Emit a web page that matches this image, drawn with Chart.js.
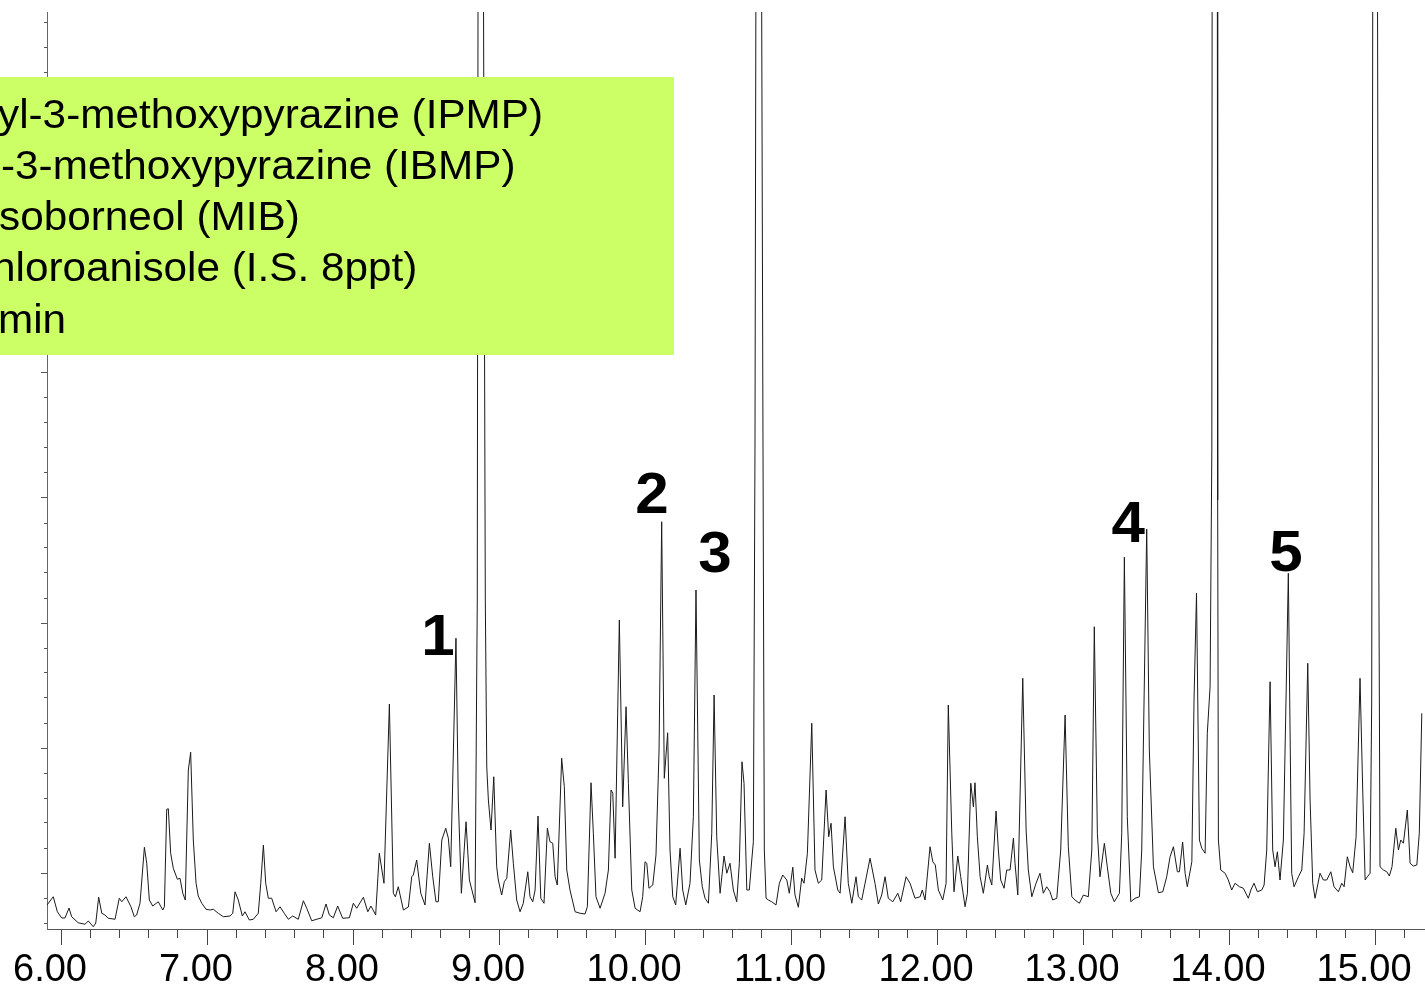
<!DOCTYPE html>
<html><head><meta charset="utf-8">
<script src="https://cdn.jsdelivr.net/npm/chart.js@4.4.0/dist/chart.umd.min.js"></script>
<style>html,body{margin:0;padding:0;background:#fff;overflow:hidden}canvas{display:block}</style>
</head><body>
<canvas id="c" width="1425" height="997"></canvas>
<script>
// Retention time (min)
const times = [5.904,5.947,5.975,6.005,6.027,6.055,6.073,6.118,6.164,6.187,6.221,6.238,6.258,6.279,6.301,6.324,6.370,6.399,6.416,6.445,6.479,6.502,6.518,6.541,6.571,6.587,6.605,6.628,6.666,6.697,6.708,6.724,6.735,6.751,6.769,6.797,6.815,6.834,6.851,6.872,6.888,6.906,6.925,6.940,6.964,6.993,7.021,7.043,7.077,7.112,7.158,7.176,7.192,7.214,7.242,7.260,7.290,7.317,7.351,7.368,7.386,7.402,7.420,7.443,7.473,7.500,7.529,7.557,7.587,7.625,7.660,7.683,7.717,7.786,7.815,7.838,7.865,7.895,7.929,7.975,8.002,8.025,8.071,8.101,8.123,8.155,8.180,8.212,8.249,8.276,8.290,8.310,8.345,8.379,8.402,8.413,8.436,8.464,8.493,8.523,8.546,8.568,8.584,8.608,8.635,8.653,8.669,8.683,8.705,8.721,8.742,8.774,8.797,8.836,8.851,8.856,8.875,8.894,8.906,8.916,8.927,8.945,8.964,8.984,8.995,9.018,9.036,9.053,9.080,9.098,9.121,9.144,9.166,9.197,9.212,9.231,9.247,9.267,9.286,9.308,9.331,9.349,9.368,9.384,9.399,9.429,9.447,9.464,9.486,9.521,9.555,9.589,9.605,9.630,9.646,9.664,9.692,9.726,9.749,9.767,9.779,9.795,9.824,9.847,9.870,9.886,9.909,9.932,9.966,9.984,10.000,10.012,10.027,10.053,10.075,10.096,10.114,10.132,10.155,10.171,10.190,10.210,10.240,10.258,10.279,10.308,10.331,10.349,10.372,10.392,10.411,10.434,10.457,10.473,10.491,10.514,10.541,10.560,10.582,10.605,10.628,10.646,10.664,10.678,10.697,10.714,10.731,10.742,10.753,10.759,10.779,10.799,10.808,10.817,10.829,10.845,10.868,10.897,10.920,10.943,10.971,10.988,11.012,11.027,11.050,11.073,11.089,11.112,11.142,11.164,11.187,11.210,11.240,11.258,11.274,11.290,11.320,11.336,11.370,11.392,11.416,11.445,11.461,11.484,11.507,11.541,11.575,11.598,11.621,11.644,11.666,11.697,11.731,11.751,11.788,11.815,11.849,11.884,11.899,11.918,11.952,11.971,11.988,12.009,12.039,12.062,12.077,12.101,12.116,12.142,12.162,12.192,12.208,12.231,12.249,12.260,12.276,12.295,12.317,12.345,12.358,12.375,12.404,12.420,12.436,12.459,12.477,12.500,12.523,12.534,12.553,12.587,12.610,12.625,12.649,12.678,12.705,12.728,12.751,12.774,12.792,12.820,12.847,12.877,12.899,12.923,12.945,12.975,13.002,13.036,13.060,13.077,13.098,13.116,13.146,13.166,13.190,13.214,13.249,13.265,13.283,13.303,13.327,13.356,13.386,13.402,13.436,13.454,13.482,13.516,13.546,13.573,13.596,13.619,13.646,13.660,13.682,13.699,13.714,13.745,13.760,13.777,13.797,13.813,13.836,13.851,13.870,13.882,13.884,13.901,13.920,13.922,13.927,13.943,13.973,13.995,14.018,14.041,14.071,14.098,14.132,14.149,14.171,14.194,14.224,14.240,14.258,14.281,14.299,14.315,14.331,14.349,14.372,14.390,14.406,14.423,14.429,14.445,14.475,14.498,14.514,14.539,14.555,14.573,14.589,14.623,14.646,14.669,14.697,14.719,14.749,14.772,14.788,14.810,14.829,14.847,14.870,14.897,14.916,14.932,14.947,14.966,14.977,14.984,15.000,15.017,15.024,15.034,15.057,15.080,15.098,15.116,15.142,15.160,15.176,15.194,15.221,15.240,15.262,15.286,15.303,15.320];

// Abundance (arbitrary units)
const intensities = [7.2,10.5,4.5,2.0,2.0,6.0,2.5,0.1,-0.5,0.8,-1.5,0,10.3,3.9,3.2,1.9,1.5,9.9,8.5,10.5,6.5,2.5,3.2,7.9,30.3,23.9,9.2,6.8,8.5,5.2,6.5,45.5,45.7,27.9,21.9,17.5,17.9,11.9,9.2,61.2,68.3,33.2,15.9,10.8,7.9,5.5,5.2,5.5,3.9,2.5,2.8,3.9,12.5,9.2,2.8,4.5,1.2,1.5,3.9,15.9,31.2,15.9,9.9,9.9,4.5,6.5,3.9,1.5,2.8,1.5,8.9,5.9,0.9,2.1,7.6,3.2,2.1,6.8,1.9,2.1,7.9,5.9,10.3,4.5,6.8,3.2,27.9,15.9,87.6,11.9,10.5,14.5,5.2,6.4,18.5,19.2,25.2,11.9,7.2,31.9,18.5,8.5,8.5,33.2,37.9,33.9,22.5,57.2,113.9,49.2,11.9,40.5,17.2,8.1,129.2,364.4,449.2,364.4,129.2,62.4,49.2,37.2,58.5,22.5,17.2,11.2,16.5,17.9,37.2,23.9,9.2,4.5,7.9,20.5,10.5,8.5,13.2,42.8,9.9,7.9,37.9,32.5,31.9,18.5,15.2,65.9,54.5,21.2,13.2,4.5,3.9,3.6,6.5,56.1,35.9,10.5,5.9,11.9,21.2,53.2,51.9,25.9,121.2,46.5,86.5,55.9,13.2,5.9,4.5,10.5,24.5,23.9,13.9,15.2,27.2,69.2,160.5,57.9,76.1,29.2,10.5,7.2,29.9,13.2,7.2,15.9,42.5,133.2,25.2,14.5,9.9,7.9,35.9,91.2,34.5,11.9,26.8,19.9,23.9,13.2,8.5,23.9,64.5,55.9,13.2,13.2,25.2,32.5,189.2,364.4,489.2,364.4,189.2,29.2,9.9,9.2,8.5,7.2,15.9,19.2,17.2,11.9,22.3,11.2,6.3,17.9,15.9,27.9,79.9,21.2,15.9,17.2,53.2,34.5,39.9,22.5,13.2,11.9,42.5,15.9,7.9,18.5,10.5,9.2,15.9,25.9,15.9,7.6,11.2,18.5,9.9,8.5,11.9,8.5,18.5,15.9,9.9,10.5,13.2,9.2,30.5,24.5,23.2,13.2,9.2,15.9,87.2,35.9,12.5,26.8,18.5,6.5,11.9,55.9,46.5,56.1,34.5,18.5,11.9,23.2,18.5,15.2,44.8,29.2,17.2,13.9,21.2,21.2,33.9,23.9,11.2,97.9,37.2,21.2,10.5,15.9,19.9,11.9,14.5,12.5,9.2,9.9,29.2,83.2,30.5,10.5,9.2,7.9,11.2,10.5,29.2,118.5,35.9,18.5,31.9,22.5,11.9,8.5,11.9,35.9,146.3,42.5,8.5,9.9,10.5,29.2,157.5,69.2,22.5,12.1,12.5,18.5,26.5,30.5,20.5,20.5,32.4,19.9,14.5,24.5,89.2,131.9,33.2,29.9,27.9,75.9,94.5,189.2,364.4,489.2,364.4,169.2,33.2,21.2,19.9,17.2,13.2,15.9,14.5,13.9,9.9,13.2,15.9,12.5,13.2,15.2,29.2,96.5,29.2,22.5,28.5,17.2,33.2,89.2,139.9,49.2,19.9,14.5,18.5,21.2,35.9,103.9,49.2,15.9,9.9,19.9,17.2,17.2,20.5,14.5,12.5,15.9,14.5,26.5,22.5,20.1,34.5,97.9,51.9,17.2,18.5,19.9,89.2,364.4,489.2,364.4,169.2,22.5,21.2,20.5,18.8,22.5,37.9,29.2,33.2,31.9,45.2,23.9,22.8,23.2,35.9,83.9];

// Axis ticks
const xTickValues = [6.0,6.2,6.4,6.6,6.8,7.0,7.2,7.4,7.6,7.8,8.0,8.2,8.4,8.6,8.8,9.0,9.2,9.4,9.6,9.8,10.0,10.2,10.4,10.6,10.8,11.0,11.2,11.4,11.6,11.8,12.0,12.2,12.4,12.6,12.8,13.0,13.2,13.4,13.6,13.8,14.0,14.2,14.4,14.6,14.8,15.0,15.2];
const yTickValues = [0,10,20,30,40,50,60,70,80,90,100,110,120,130,140,150,160,170,180,190,200,210,220,230,240,250,260,270,280,290,300,310,320,330,340,350,360];

// Peak annotations
const peakNumbers = ["1","2","3","4","5"];
const peakLabelTimes = [8.582, 10.048, 10.479, 13.310, 14.390];
const peakLabelHeights = [107.2, 164.0, 140.5, 152.5, 140.8];

// Legend text (visible part)
const legendLines = ["yl-3-methoxypyrazine (IPMP)", "-3-methoxypyrazine (IBMP)", "soborneol (MIB)", "hloroanisole (I.S. 8ppt)", "min"];

const points = times.map((t, i) => ({x: t, y: intensities[i]}));
const isMajorX = v => Math.abs(v - Math.round(v)) < 1e-6;
const isMajorY = v => Math.abs((((v - 20) % 50) + 50) % 50) < 1e-6;
const FONT = '"Liberation Sans", Arial, sans-serif';

const overlay = {
  id: 'overlay',
  afterDraw(chart) {
    const ctx = chart.ctx, xs = chart.scales.x, ys = chart.scales.y;
    ctx.save();
    ctx.fillStyle = '#000';
    ctx.font = 'bold 57px ' + FONT;
    ctx.textAlign = 'center';
    ctx.textBaseline = 'alphabetic';
    peakNumbers.forEach((n, i) => {
      const px = xs.getPixelForValue(peakLabelTimes[i]);
      const py = ys.getPixelForValue(peakLabelHeights[i]);
      ctx.save(); ctx.translate(px, py); ctx.scale(1.055, 1); ctx.fillText(n, 0, 0); ctx.restore();
    });
    ctx.fillStyle = '#CCFF66';
    ctx.fillRect(0, 77, 674, 278);
    ctx.fillStyle = '#000';
    ctx.font = '40px ' + FONT;
    ctx.textAlign = 'left';
    const startX = [-2, 1, -1, -8, -2];
    legendLines.forEach((s, i) => {
      ctx.save(); ctx.translate(startX[i], 127.5 + i * 51.3); ctx.scale(1.057, 1); ctx.fillText(s, 0, 0); ctx.restore();
    });
    ctx.restore();
  }
};

new Chart(document.getElementById('c'), {
  type: 'line',
  data: {datasets: [{data: points, borderColor: '#1a1a1a', borderWidth: 1, pointRadius: 0, tension: 0, fill: false}]},
  options: {
    responsive: false, animation: false, devicePixelRatio: 1,
    layout: {padding: {left: 41, top: 12, right: 0, bottom: 0}},
    plugins: {legend: {display: false}, tooltip: {enabled: false}},
    scales: {
      x: {
        type: 'linear', position: 'bottom', min: 5.904, max: 15.342,
        afterBuildTicks: s => { s.ticks = xTickValues.map(v => ({value: v})); },
        ticks: {
          autoSkip: false, maxRotation: 0, minRotation: 0, padding: 7, labelOffset: -11, color: '#000',
          font: {family: FONT, size: 38, lineHeight: 1},
          callback: v => isMajorX(v) ? v.toFixed(2) : ''
        },
        grid: {
          drawOnChartArea: false, drawTicks: true, tickLength: 16, tickColor: '#444', tickWidth: 1,
          tickBorderDash: c => (c.tick && !isMajorX(c.tick.value)) ? [8, 100] : []
        },
        border: {display: true, color: '#555', width: 1}
      },
      y: {
        type: 'linear', min: -2.4, max: 364.4,
        afterBuildTicks: s => { s.ticks = yTickValues.map(v => ({value: v})); },
        ticks: {display: false},
        grid: {
          drawOnChartArea: false, drawTicks: true, tickLength: 6, tickColor: '#555', tickWidth: 1,
          tickBorderDash: c => (c.tick && !isMajorY(c.tick.value)) ? [0, 3, 3, 100] : []
        },
        border: {display: true, color: '#666', width: 1}
      }
    }
  },
  plugins: [overlay]
});
</script>
</body></html>
